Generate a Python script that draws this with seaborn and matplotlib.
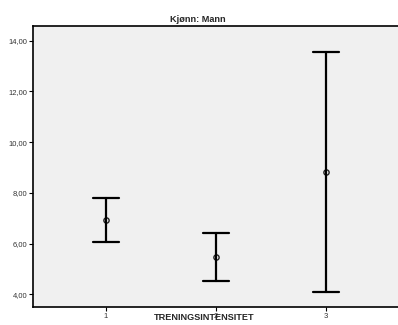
import matplotlib

matplotlib.use("Agg")

import matplotlib.pyplot as plt
import numpy as np
import pandas as pd
import seaborn as sns
from matplotlib.ticker import FuncFormatter

# ── Data ──────────────────────────────────────────────────────────────────────
groups = ["1", "2", "3"]
means = [6.92, 5.47, 8.81]
lower = [6.05, 4.52, 4.08]
upper = [7.80, 6.43, 13.55]
yticks = [4, 6, 8, 10, 12, 14]

# long form: each group holds its lower, mean and upper value;
# the median is the mean and min/max give the interval
rows = []
for g, lo, m, hi in zip(groups, lower, means, upper):
    for v in (lo, m, hi):
        rows.append({"TRENINGSINTENSITET": g, "value": v})
df = pd.DataFrame(rows)

sns.set_style("white")
plt.rcParams["font.family"] = ["Liberation Sans", "DejaVu Sans"]

fig = plt.figure(figsize=(3.98, 3.25), dpi=100)
ax = fig.add_axes([33 / 398, 18 / 325, 1 - 33 / 398, 281 / 325])
ax.set_facecolor("#f0f0f0")

sns.pointplot(
    data=df, x="TRENINGSINTENSITET", y="value",
    estimator="median", errorbar=lambda v: (v.min(), v.max()),
    linestyle="none", color="black", capsize=0.235,
    marker="o", markersize=3.8, markerfacecolor="none",
    markeredgecolor="#222222", markeredgewidth=1.0,
    err_kws={"linewidth": 1.6, "color": "black"},
    ax=ax,
)

ax.set_xlim(-0.664, 2.655)
ax.set_ylim(3.5, 14.58)
ax.set_yticks(yticks)
ax.yaxis.set_major_formatter(FuncFormatter(lambda v, _: f"{v:.2f}".replace(".", ",")))

for side in ("left", "bottom", "top"):
    ax.spines[side].set_visible(True)
    ax.spines[side].set_color("black")
    ax.spines[side].set_linewidth(1.2)
ax.spines["right"].set_visible(False)

ax.tick_params(axis="both", which="major", length=3, width=0.8, color="black",
               labelsize=5.5, labelcolor="#333333", pad=1, direction="out",
               left=True, bottom=True)

ax.set_ylabel("")
ax.set_xlabel("TRENINGSINTENSITET", fontsize=6.6, fontweight="bold")
ax.xaxis.set_label_coords(0.47, -0.022)

fig.text(198 / 398, 1 - 20 / 325, "Kjønn: Mann", ha="center", va="center",
         fontsize=6.6, fontweight="bold")

fig.savefig("out.png", dpi=100)
